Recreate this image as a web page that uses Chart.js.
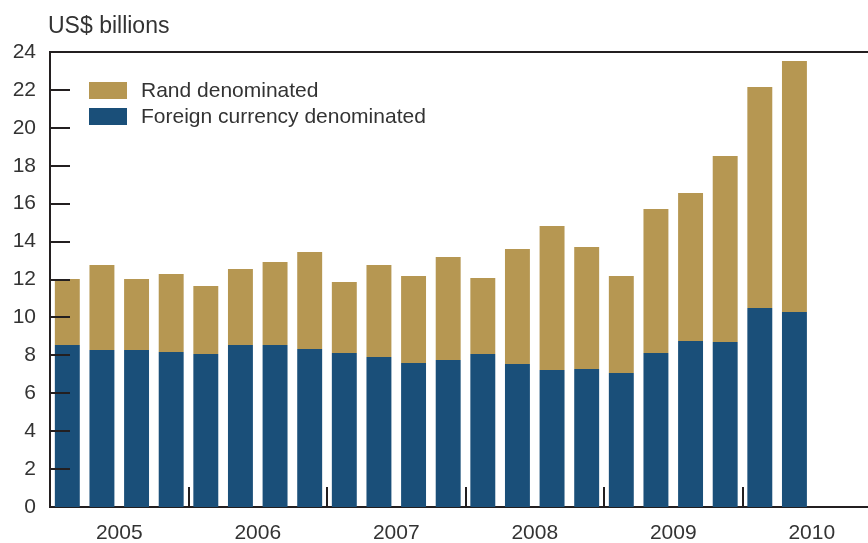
<!DOCTYPE html>
<html>
<head>
<meta charset="utf-8">
<script src="https://cdn.jsdelivr.net/npm/chart.js@4/dist/chart.umd.min.js"></script>
<style>
  html, body { margin: 0; padding: 0; background: #fff; overflow: hidden; }
  #wrap { width: 884px; height: 543px; }
</style>
</head>
<body>
<div id="wrap"><canvas id="debtChart" width="884" height="543"></canvas></div>
<script>
// quarters 2005 Q1 .. 2010 Q4 (last two quarters have no data yet)
const quarters = [
  '2005Q1','2005Q2','2005Q3','2005Q4',
  '2006Q1','2006Q2','2006Q3','2006Q4',
  '2007Q1','2007Q2','2007Q3','2007Q4',
  '2008Q1','2008Q2','2008Q3','2008Q4',
  '2009Q1','2009Q2','2009Q3','2009Q4',
  '2010Q1','2010Q2','2010Q3','2010Q4'
];
const years = ['2005', '2006', '2007', '2008', '2009', '2010'];

// US$ billions
const foreignDenominated = [
  8.55, 8.28, 8.28, 8.18,
  8.07, 8.55, 8.55, 8.33,
  8.12, 7.91, 7.60, 7.75,
  8.07, 7.54, 7.23, 7.28,
  7.07, 8.12, 8.76, 8.70,
  10.50, 10.29
];
const randDenominated = [
  3.48, 4.49, 3.75, 4.11,
  3.59, 4.00, 4.37, 5.12,
  3.75, 4.86, 4.58, 5.44,
  4.01, 6.07, 7.59, 6.43,
  5.11, 7.60, 7.80, 9.81,
  11.65, 13.24
];

const yTicks = [0, 2, 4, 6, 8, 10, 12, 14, 16, 18, 20, 22, 24];

const FONT = '"Liberation Sans", Arial, Helvetica, sans-serif';
const INK = '#231f20';
const TEXT = '#333333';

// draws inward tick marks, year separators, frame top, unit label and legend
const decorations = {
  id: 'decorations',
  afterDraw(chart) {
    const ctx = chart.ctx;
    const area = chart.chartArea;
    const y = chart.scales.y;
    const yr = chart.scales.yr;
    ctx.save();
    ctx.strokeStyle = INK;
    ctx.lineWidth = 2;

    // top frame line
    ctx.beginPath();
    ctx.moveTo(area.left - 1, area.top);
    ctx.lineTo(area.right, area.top);
    ctx.stroke();

    // y ticks pointing into the plot
    yTicks.slice(1, -1).forEach(v => {
      const py = Math.round(y.getPixelForValue(v));
      ctx.beginPath();
      ctx.moveTo(area.left, py);
      ctx.lineTo(area.left + 20, py);
      ctx.stroke();
    });

    // year separators on the x axis
    for (let i = 1; i < years.length; i++) {
      const px = Math.round(yr.getPixelForValue(i * 4));
      ctx.beginPath();
      ctx.moveTo(px, area.bottom);
      ctx.lineTo(px, area.bottom - 20);
      ctx.stroke();
    }

    // unit label
    ctx.fillStyle = TEXT;
    ctx.font = '23px ' + FONT;
    ctx.textAlign = 'left';
    ctx.textBaseline = 'middle';
    ctx.fillText('US$ billions', 48, 27);

    // legend (top of stack first)
    ctx.font = '21px ' + FONT;
    const sets = chart.data.datasets.slice().reverse();
    sets.forEach((ds, i) => {
      const ty = 90 + i * 26;
      ctx.fillStyle = ds.backgroundColor;
      ctx.fillRect(89, ty - 8, 38, 17);
      ctx.fillStyle = TEXT;
      ctx.fillText(ds.label, 141, ty + 1);
    });
    ctx.restore();
  }
};

const ctx = document.getElementById('debtChart').getContext('2d');
new Chart(ctx, {
  type: 'bar',
  data: {
    labels: quarters,
    datasets: [
      {
        label: 'Foreign currency denominated',
        data: foreignDenominated,
        backgroundColor: '#1a4f79',
        categoryPercentage: 1,
        barPercentage: 0.72
      },
      {
        label: 'Rand denominated',
        data: randDenominated,
        backgroundColor: '#b69752',
        categoryPercentage: 1,
        barPercentage: 0.72
      }
    ]
  },
  options: {
    responsive: false,
    animation: false,
    layout: { padding: { top: 52, right: 3, bottom: 0, left: 0 } },
    plugins: {
      legend: { display: false },
      tooltip: { enabled: false }
    },
    scales: {
      x: {
        type: 'category',
        stacked: true,
        display: false,
        offset: true
      },
      yr: {
        type: 'linear',
        position: 'bottom',
        min: 0,
        max: 24,
        offset: false,
        grid: { display: false, drawTicks: false, offset: false },
        border: { display: true, color: INK, width: 2 },
        afterBuildTicks: axis => {
          axis.ticks = years.map((_, i) => ({ value: i * 4 + 2 }));
        },
        afterFit: axis => { axis.height = 36; },
        ticks: {
          autoSkip: false,
          maxRotation: 0,
          padding: 14,
          color: TEXT,
          font: { family: FONT, size: 21 },
          callback: v => years[(v - 2) / 4]
        }
      },
      y: {
        stacked: true,
        min: 0,
        max: 24,
        grid: { display: false, drawTicks: false },
        border: { display: true, color: INK, width: 2 },
        afterBuildTicks: axis => {
          axis.ticks = yTicks.map(v => ({ value: v }));
        },
        afterFit: axis => { axis.width = 50; },
        ticks: {
          padding: 14,
          color: TEXT,
          font: { family: FONT, size: 21 }
        }
      }
    }
  },
  plugins: [decorations]
});
</script>
</body>
</html>
